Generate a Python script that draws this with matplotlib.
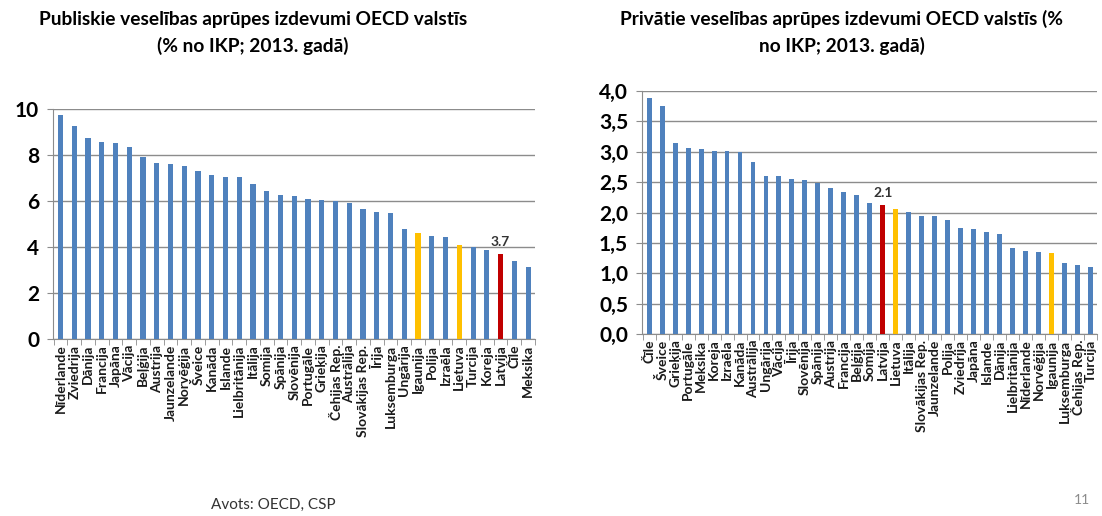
import matplotlib
matplotlib.use("Agg")
import matplotlib.pyplot as plt
from matplotlib.ticker import FuncFormatter

plt.rcParams['font.family'] = ['Lato', 'DejaVu Sans']

# Publiskie izdevumi (% no IKP)
pub_countries = ['Nīderlande', 'Zviedrija', 'Dānija', 'Francija', 'Japāna', 'Vācija',
                 'Beļģija', 'Austrija', 'Jaunzelande', 'Norvēģija', 'Šveice', 'Kanāda',
                 'Islande', 'Lielbritānija', 'Itālija', 'Somija', 'Spānija', 'Slovēnija',
                 'Portugāle', 'Grieķija', 'Čehijas Rep.', 'Austrālija', 'Slovākijas Rep.',
                 'Īrija', 'Luksemburga', 'Ungārija', 'Igaunija', 'Polija', 'Izraēla',
                 'Lietuva', 'Turcija', 'Koreja', 'Latvija', 'Čīle', 'Meksika']
pub_values = [9.74, 9.26, 8.72, 8.58, 8.54, 8.36, 7.91, 7.67, 7.61, 7.52, 7.32, 7.13,
              7.06, 7.03, 6.75, 6.45, 6.28, 6.20, 6.09, 6.03, 6.01, 5.90, 5.67, 5.52,
              5.48, 4.80, 4.62, 4.49, 4.45, 4.09, 3.99, 3.86, 3.70, 3.39, 3.13]

# Privātie izdevumi (% no IKP)
priv_countries = ['Čīle', 'Šveice', 'Grieķija', 'Portugāle', 'Meksika', 'Koreja', 'Izraēla',
                  'Kanāda', 'Austrālija', 'Ungārija', 'Vācija', 'Īrija', 'Slovēnija',
                  'Spānija', 'Austrija', 'Francija', 'Beļģija', 'Somija', 'Latvija',
                  'Lietuva', 'Itālija', 'Slovākijas Rep.', 'Jaunzelande', 'Polija',
                  'Zviedrija', 'Japāna', 'Islande', 'Dānija', 'Lielbritānija', 'Nīderlande',
                  'Norvēģija', 'Igaunija', 'Luksemburga', 'Čehijas Rep.', 'Turcija']
priv_values = [3.89, 3.76, 3.15, 3.06, 3.04, 3.02, 3.02, 2.99, 2.83, 2.60, 2.60, 2.55,
               2.53, 2.48, 2.40, 2.33, 2.29, 2.16, 2.12, 2.06, 2.01, 1.95, 1.94, 1.87,
               1.75, 1.73, 1.68, 1.65, 1.41, 1.37, 1.35, 1.34, 1.17, 1.13, 1.11]

BLUE = '#4F81BD'
YELLOW = '#FFC000'
RED = '#C00000'
GRID = '#8C8C8C'


def bar_colors(countries):
    cols = []
    for c in countries:
        if c == 'Latvija':
            cols.append(RED)
        elif c in ('Lietuva', 'Igaunija'):
            cols.append(YELLOW)
        else:
            cols.append(BLUE)
    return cols


def draw(ax, countries, values, ymax, step, fmt, ytick_size, label):
    x = list(range(len(countries)))
    ax.bar(x, values, width=0.38, color=bar_colors(countries), zorder=3)
    ax.set_xlim(-0.55, len(countries) - 0.5)
    ax.set_ylim(0, ymax)
    n = int(round(ymax / step))
    ax.set_yticks([i * step for i in range(n + 1)])
    ax.yaxis.set_major_formatter(FuncFormatter(fmt))
    ax.grid(axis='y', color=GRID, linewidth=1.0, zorder=0)
    ax.set_xticks(x)
    ax.set_xticklabels(countries, rotation=90, fontsize=10, fontweight='bold',
                       color='#1a1a1a')
    ax.set_xticks([i + 0.5 for i in range(-1, len(countries))], minor=True)
    ax.tick_params(axis='x', which='major', length=0, pad=4)
    ax.tick_params(axis='x', which='minor', length=4, color=GRID)
    ax.tick_params(axis='y', length=4, color=GRID, labelsize=ytick_size, pad=6)
    for t in ax.get_yticklabels():
        t.set_fontweight('bold')
    for s in ('top', 'right'):
        ax.spines[s].set_visible(False)
    for s in ('left', 'bottom'):
        ax.spines[s].set_color(GRID)
    i = countries.index('Latvija')
    ax.text(i, values[i] + ymax * 0.025, label, ha='center', va='bottom',
            fontsize=10, fontweight='bold', color='#333333')


W, H = 1102, 516
fig = plt.figure(figsize=(W / 100, H / 100), dpi=100)

ax1 = fig.add_axes([53 / W, (H - 339) / H, (535 - 53) / W, (339 - 109) / H])
draw(ax1, pub_countries, pub_values, 10, 2, lambda v, p: '%d' % v, 15, '3.7')

ax2 = fig.add_axes([642 / W, (H - 334) / H, (1097 - 642) / W, (334 - 91) / H])
draw(ax2, priv_countries, priv_values, 4.0, 0.5,
     lambda v, p: ('%.1f' % v).replace('.', ','), 15, '2.1')

fig.text(253 / W, 1 - 19 / H, 'Publiskie veselības aprūpes izdevumi OECD valstīs',
         ha='center', va='center', fontsize=13.8, fontweight='bold')
fig.text(253 / W, 1 - 46 / H, '(% no IKP; 2013. gadā)',
         ha='center', va='center', fontsize=13.8, fontweight='bold')
fig.text(842 / W, 1 - 19 / H, 'Privātie veselības aprūpes izdevumi OECD valstīs (%',
         ha='center', va='center', fontsize=13.8, fontweight='bold')
fig.text(842 / W, 1 - 46 / H, 'no IKP; 2013. gadā)',
         ha='center', va='center', fontsize=13.8, fontweight='bold')

fig.text(211 / W, 1 - 505 / H, 'Avots: OECD, CSP', ha='left', va='center',
         fontsize=11, color='#333333')
fig.text(1082 / W, 1 - 500 / H, '11', ha='center', va='center',
         fontsize=10, color='#8C8C8C')

fig.savefig('out.png', dpi=100)
